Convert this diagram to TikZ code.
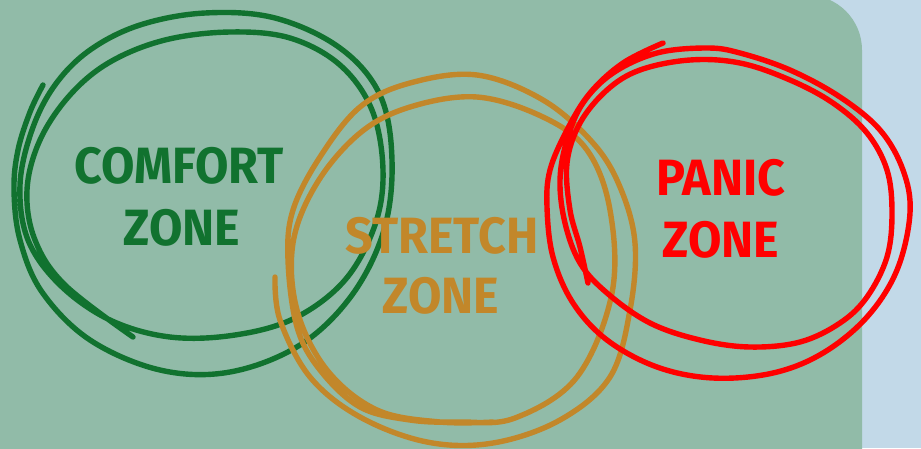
\documentclass[tikz,border=0pt]{standalone}
\usepackage{fontspec}
\setmainfont{Fira Sans}
\definecolor{bgblue}{HTML}{C2D9E8}
\definecolor{panel}{HTML}{91BBA8}
\definecolor{zgreen}{HTML}{11722F}
\definecolor{zgold}{HTML}{C2872A}
\definecolor{zred}{HTML}{FF0000}
\begin{document}
\begin{tikzpicture}[x=1pt,y=-1pt,
  stroke/.style={line width=5.4pt, line cap=round, line join=round},
  lbl/.style={font=\fontsize{51}{51}\selectfont\bfseries, inner sep=0pt, anchor=base}]
\fill[bgblue] (0,0) rectangle (921,448);
\useasboundingbox (0,0) rectangle (921,448);
\fill[panel, rounded corners=55pt] (-80,-5) rectangle (862,520);

% green scribble
\draw[stroke, zgreen] plot[smooth, tension=0.6] coordinates {
 (43,85) (30,112) (18,150) (14,190) (20,240) (42,292) (90,340) (160,370) (230,372)
 (300,345) (352,295) (384,230) (392,160) (380,95) (340,48) (275,18) (205,13) (140,25)
 (90,50) (55,85) (32,130) (20,185) (28,240) (60,285) (110,320) (170,337) (235,335)
 (295,318) (345,280) (375,225) (383,170) (372,110) (340,65) (290,38) (230,32) (165,40)
 (110,62) (70,95) (40,140) (27,190) (35,240) (65,285) (133,337)};

% gold scribble
\draw[stroke, zgold] plot[smooth, tension=0.6] coordinates {
 (275,277) (280,320) (310,377) (360,417) (427,442) (493,443) (560,420) (610,377)
 (630,310) (635,243) (620,187) (593,143) (543,100) (477,75) (410,83) (360,107)
 (320,157) (293,210) (288,260) (297,327) (320,370) (360,407) (410,420) (460,422)
 (515,418) (577,377) (612,293) (610,210) (587,150) (543,117) (477,97) (410,107)
 (360,133) (317,183) (293,243) (297,310) (327,370) (377,410) (440,422) (493,422)};

% red scribble
\draw[stroke, zred] plot[smooth, tension=0.6] coordinates {
 (663,43) (623,63) (590,93) (567,130) (550,170) (547,207) (553,257) (573,303)
 (607,340) (657,367) (713,378) (773,373) (823,353) (867,317) (897,270) (910,213)
 (903,170) (880,130) (840,97) (790,70) (740,53) (707,48) (657,53) (613,73) (583,103)
 (567,140) (560,180) (565,223) (580,263) (607,293) (650,323) (700,340) (750,347)
 (800,342) (840,323) (867,297) (887,257) (892,213) (887,170) (867,133) (833,103)
 (790,80) (740,63) (690,60) (640,70) (607,90) (580,123) (567,163) (570,210)
 (580,247) (588,283)};

\node[lbl, text=zgreen] (comfortA) at (179,183) {\scalebox{0.95}[1]{COMFORT}};
\node[lbl, text=zgreen] (comfortB) at (182,245) {\scalebox{0.95}[1]{ZONE}};
\node[lbl, text=zgold] (stretchA) at (442,253) {\scalebox{0.95}[1]{STRETCH}};
\node[lbl, text=zgold] (stretchB) at (441,313) {\scalebox{0.95}[1]{ZONE}};
\node[lbl, text=zred] (panicA) at (721,195) {\scalebox{0.95}[1]{PANIC}};
\node[lbl, text=zred] (panicB) at (721,257) {\scalebox{0.95}[1]{ZONE}};
\end{tikzpicture}
\end{document}
